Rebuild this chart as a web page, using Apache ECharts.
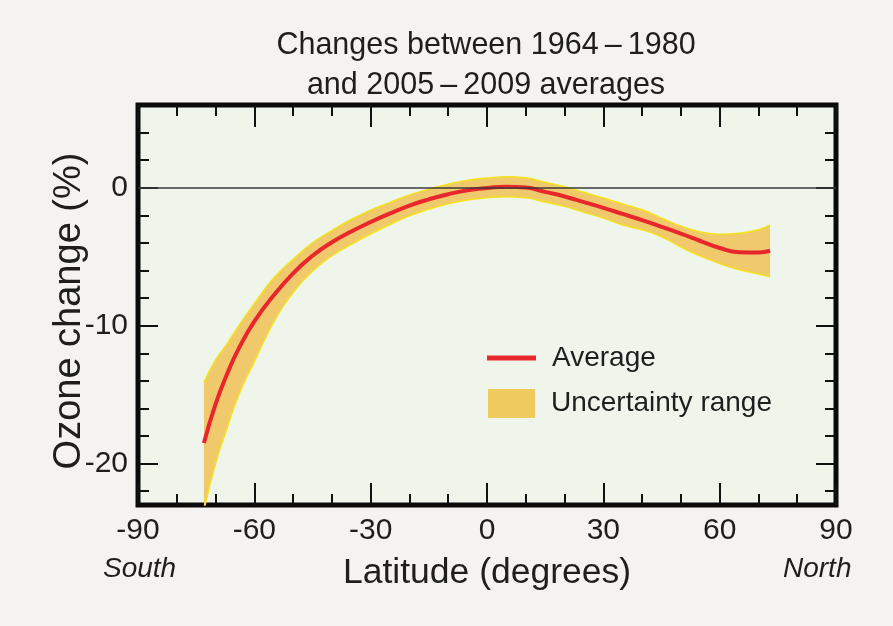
<!DOCTYPE html>
<html>
<head>
<meta charset="utf-8">
<script src="https://cdn.jsdelivr.net/npm/echarts@6/dist/echarts.min.js"></script>
<style>
html,body{margin:0;padding:0;background:#f4f3f1;}
#c{width:893px;height:626px;}
</style>
</head>
<body>
<div id="c"></div>
<script>
// Latitude (degrees)
const lats = [-73,-70,-67,-64,-60,-55,-50,-45,-40,-35,-30,-25,-20,-15,-10,-5,0,5,10,15,20,25,30,35,40,45,50,55,60,65,70,73];
// Average ozone change (%)
const avg = [-18.5,-15.68,-13.49,-11.65,-9.69,-7.8,-6.2,-4.93,-3.95,-3.17,-2.48,-1.86,-1.29,-0.84,-0.47,-0.18,-0.02,0.08,0.02,-0.30,-0.63,-1.04,-1.46,-1.90,-2.35,-2.83,-3.33,-3.86,-4.37,-4.67,-4.69,-4.57];
// Uncertainty range upper / lower bounds (%)
const upper = [-14.1,-12.5,-11.3,-10.0,-8.4,-6.55,-5.19,-4.0,-3.1,-2.3,-1.62,-1.06,-0.52,-0.1,0.26,0.54,0.7,0.8,0.72,0.4,0.07,-0.33,-0.74,-1.17,-1.6,-2.2,-2.78,-3.2,-3.37,-3.3,-3.05,-2.7];
const lower = [-23.4,-20.0,-17.4,-15.0,-12.6,-9.75,-7.6,-6.05,-4.93,-4.1,-3.35,-2.66,-2.04,-1.55,-1.16,-0.88,-0.73,-0.65,-0.72,-1.04,-1.35,-1.77,-2.2,-2.7,-3.05,-3.55,-4.3,-4.95,-5.5,-5.95,-6.25,-6.45];
// Tick values
const yLabelTicks = [-20,-10,0];
const yMinorTicks = [-22,-20,-18,-16,-14,-12,-10,-8,-6,-4,-2,0,2,4];

const FONT = 'Liberation Sans, Arial, Helvetica, sans-serif';
const TXT = '#1e1e1e';

// [value, latitude] order so that stacking happens on the value (y) dimension
const avgData = lats.map((x,i)=>[x,avg[i]]);
const lowData = lats.map((x,i)=>[lower[i],x]);
const rangeData = lats.map((x,i)=>[+(upper[i]-lower[i]).toFixed(3),x]);

const chart = echarts.init(document.getElementById('c'), null, {renderer:'canvas'});
const gridBox = {left:138, top:105, width:698, height:400};

function xAx(pos, showLabel){
  return {
    type:'value', position:pos, min:-90, max:90, interval:30,
    axisLine:{show:false, onZero:false},
    axisTick:{show:true, inside:true, length:22, lineStyle:{color:'#111', width:2}},
    minorTick:{show:true, splitNumber:3, length:11, lineStyle:{color:'#111', width:2}},
    splitLine:{show:false}, minorSplitLine:{show:false},
    axisLabel:{show:showLabel, margin:11, fontSize:30, color:TXT, fontFamily:FONT},
    name: showLabel ? 'Latitude (degrees)' : '',
    nameLocation:'middle', nameGap:50, nameMoveOverlap:false,
    nameTextStyle:{fontSize:35.5, color:TXT, fontFamily:FONT}
  };
}
function yAx(pos, major, showLabel, withName){
  return {
    type:'value', position:pos, min:-23, max:6,
    axisLine:{show:false, onZero:false},
    axisTick:{show:true, inside:true, length: major?20:11, customValues: major?yLabelTicks:yMinorTicks, lineStyle:{color:'#111', width:2}},
    splitLine:{show:false},
    axisLabel:{show:showLabel, customValues:yLabelTicks, margin:10, fontSize:30, color:TXT, fontFamily:FONT},
    name: withName ? 'Ozone change (%)' : '',
    nameLocation:'middle', nameGap:49, nameRotate:90, nameMoveOverlap:false,
    nameTextStyle:{fontSize:38, color:TXT, fontFamily:FONT, padding:[0,12,0,0]}
  };
}

const option = {
  backgroundColor:'#f4f3f1',
  animation:false,
  title:{
    text:'Changes between 1964\u2009\u2013\u20091980\nand 2005\u2009\u2013\u20092009 averages',
    left:481, top:21, textAlign:'center',
    textStyle:{fontSize:30.5, fontWeight:'normal', color:TXT, fontFamily:FONT, lineHeight:40}
  },
  grid:Object.assign({show:true, backgroundColor:'#f0f5eb', borderColor:'#0a0a0a', borderWidth:5}, gridBox),
  xAxis:[xAx('bottom', true), xAx('top', false)],
  yAxis:[yAx('left', true, true, true), yAx('left', false, false, false), yAx('right', true, false, false), yAx('right', false, false, false)],
  legend:[
    {data:[{name:'Average', icon:'rect', itemStyle:{color:'#e8282e', borderWidth:0}}],
     left:482, top:339, itemWidth:49, itemHeight:5, padding:5,
     textStyle:{fontSize:28, color:TXT, fontFamily:FONT, padding:[0,0,0,11]}},
    {data:[{name:'Uncertainty range', icon:'rect', itemStyle:{color:'#efca5e', borderWidth:0}}],
     left:483, top:384, itemWidth:47, itemHeight:29, padding:5,
     textStyle:{fontSize:28, color:TXT, fontFamily:FONT, padding:[0,0,0,11]}}
  ],
  graphic:[
    {type:'text', left:103, top:555, style:{text:'South', font:'italic 28px '+FONT, fill:TXT}},
    {type:'text', left:783, top:555, style:{text:'North', font:'italic 28px '+FONT, fill:TXT}}
  ],
  series:[
    {name:'lower', type:'line', stack:'band', stackStrategy:'all', data:lowData, encode:{x:1, y:0},
     smooth:true, symbol:'none', lineStyle:{color:'#f3e31c', width:1.5}, z:2, silent:true,
     markLine:{silent:true, symbol:['none','none'], label:{show:false}, lineStyle:{color:'#3a3a3a', width:1.5, type:'solid'}, data:[{yAxis:0}]}},
    {name:'Uncertainty range', type:'line', stack:'band', stackStrategy:'all', data:rangeData, encode:{x:1, y:0},
     smooth:true, symbol:'none', lineStyle:{color:'#f3e31c', width:1.5}, areaStyle:{color:'#f0c96c', opacity:1}, z:2, silent:true},
    {name:'Average', type:'line', data:avgData, smooth:true, symbol:'none',
     lineStyle:{color:'#e8262c', width:4}, z:4}
  ]
};
chart.setOption(option);
</script>
</body>
</html>
